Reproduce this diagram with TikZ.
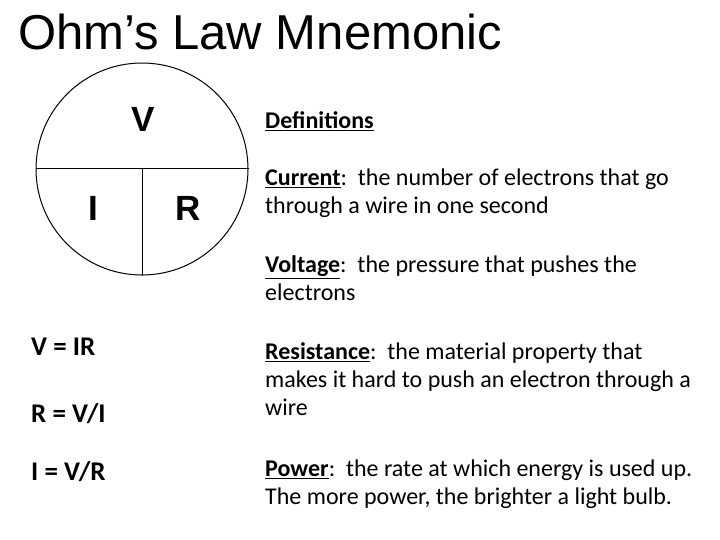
\documentclass[tikz,border=0pt]{standalone}
\usepackage{fontspec}
\setmainfont{Carlito}
\newfontfamily\arialfont{Liberation Sans}

\begin{document}
\begin{tikzpicture}[x=1pt, y=-1pt,
		defn/.style={anchor=west, align=left, inner sep=0pt, font=\fontsize{24}{28}\selectfont},
		eqn/.style={anchor=base west, inner sep=0pt, font=\fontsize{27}{30}\selectfont\bfseries},
		letter/.style={inner sep=0pt, font=\fontsize{35}{40}\selectfont\arialfont\bfseries}]
	
	% ==========================================
	% PAGE & TITLE
	% ==========================================
	\useasboundingbox[fill=white] (0,0) rectangle (720,540);
	\node[anchor=base west, inner sep=0pt, font=\fontsize{49}{56}\selectfont\arialfont] (title) at (18,50) {Ohm’s Law Mnemonic};
	
	% ==========================================
	% THE V-I-R CIRCLE
	% ==========================================
	\node[circle, draw, line width=1pt, minimum size=212pt, inner sep=0pt] (mnem) at (142,169) {};
	\draw[line width=1pt] (mnem.west) -- (mnem.east);
	\draw[line width=1pt] (mnem.center) -- (mnem.south);
	
	\node[letter] (labV) at (143,119) {V};
	\node[letter] (labI) at (93,208) {I};
	\node[letter] (labR) at (188,208) {R};
	
	% ==========================================
	% EQUATIONS
	% ==========================================
	\node[eqn] (eqV) at (31,355) {V = IR};
	\node[eqn] (eqR) at (31,422) {R = V/I};
	\node[eqn] (eqI) at (31,480) {I = V/R};
	
	% ==========================================
	% DEFINITIONS
	% ==========================================
	\node[defn] (defs) at (265,121) {\textbf{\underline{Definitions}}};
	\node[defn] (defCurrent) at (265,193) {\textbf{\underline{Current}}:\ \ the number of electrons that go\\through a wire in one second};
	\node[defn] (defVoltage) at (265,278) {\textbf{\underline{Voltage}}:\ \ the pressure that pushes the\\electrons};
	\node[defn] (defResist) at (265,379) {\textbf{\underline{Resistance}}:\ \ the material property that\\makes it hard to push an electron through a\\wire};
	\node[defn] (defPower) at (265,484) {\textbf{\underline{Power}}:\ \ the rate at which energy is used up.\\The more power, the brighter a light bulb.};
	
\end{tikzpicture}
\end{document}
